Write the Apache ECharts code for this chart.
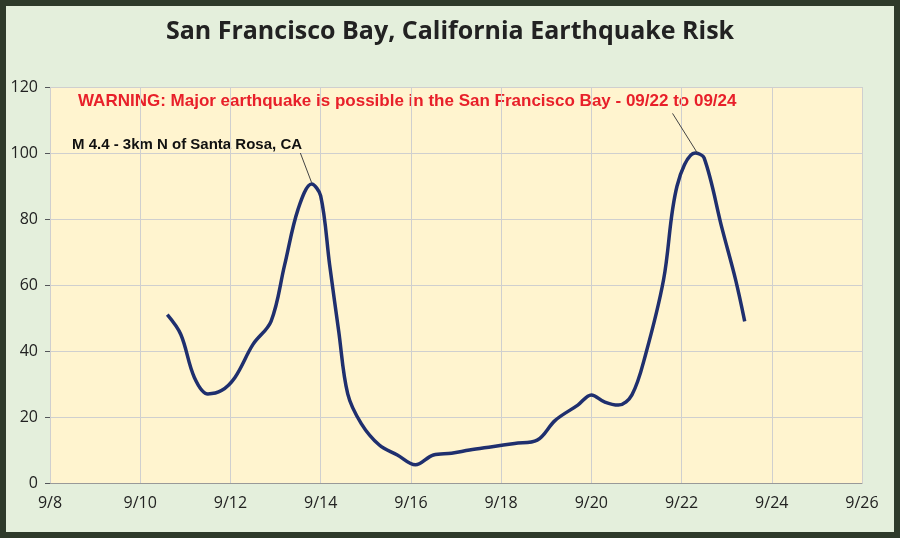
<!DOCTYPE html>
<html><head><meta charset="utf-8">
<script src="https://cdn.jsdelivr.net/npm/echarts@6/dist/echarts.min.js"></script>
<style>
html,body{margin:0;padding:0;background:#3a3a3a;}
#c{width:900px;height:538px;}
</style></head>
<body><div id="c"></div>
<script>
// day of September, risk value
var days = [10.6,10.9,11.2,11.5,11.8,12.1,12.5,12.9,13.2,13.5,13.8,14.0,14.2,14.4,14.6,14.9,15.3,15.7,16.1,16.5,16.9,17.3,17.8,18.3,18.8,19.2,19.7,20.0,20.3,20.6,20.9,21.2,21.6,21.9,22.3,22.5,22.9,23.2,23.4];
var risk = [51,45,32,27,28,32,42,49,66,83,90.6,87,66,46,27,18,11.5,8.5,5.5,8.5,9,10,11,12,13,19,23.6,26.7,24.5,23.6,26.7,38.8,61.5,90,100,98.5,77,61.5,49];

var myChart = echarts.init(document.getElementById('c'));
myChart.setOption({
    backgroundColor: '#e4efdc',
    animation: false,
    title: {
        text: 'San Francisco Bay, California Earthquake Risk',
        left: 'center', top: 14,
        textStyle: {fontFamily: 'Open Sans', fontWeight: 'bold', fontSize: 25, color: '#222'}
    },
    grid: {left: 50, right: 38, top: 87, bottom: 55, show: true, backgroundColor: '#fff4cf', borderWidth: 0},
    xAxis: {
        type: 'value', min: 8, max: 26, interval: 2,
        axisLine: {lineStyle: {color: '#999'}},
        axisTick: {show: false},
        splitLine: {lineStyle: {color: '#cfcfcf'}},
        axisLabel: {formatter: function (v) { return '9/' + v; }, fontSize: 16, color: '#222', fontFamily: 'Open Sans', margin: 12}
    },
    yAxis: {
        type: 'value', min: 0, max: 120, interval: 20,
        axisLine: {show: false},
        splitLine: {lineStyle: {color: '#cfcfcf'}},
        axisLabel: {fontSize: 16, color: '#222', fontFamily: 'Open Sans', margin: 12}
    },
    series: [{
        type: 'line', smooth: 0.35, showSymbol: false,
        data: days.map(function (d, i) { return [d, risk[i]]; }),
        lineStyle: {color: '#1f2f6e', width: 3.5},
        markLine: {
            silent: true, symbol: 'none', label: {show: false},
            lineStyle: {color: '#444', width: 1, type: 'solid'},
            data: [
                [{coord: [13.55, 100]}, {coord: [13.8, 91]}],
                [{coord: [21.8, 112]}, {coord: [22.35, 100]}]
            ]
        }
    }],
    graphic: [
        {type: 'text', left: 78, top: 93, style: {text: 'WARNING: Major earthquake is possible in the San Francisco Bay - 09/22 to 09/24', fill: '#e8202a', font: 'bold 17px Liberation Sans'}},
        {type: 'text', left: 72, top: 137, style: {text: 'M 4.4 - 3km N of Santa Rosa, CA', fill: '#111', font: 'bold 15px Liberation Sans'}},
        {type: 'rect', shape: {x: 3, y: 3, width: 894, height: 532}, style: {fill: 'none', stroke: '#2e3a2a', lineWidth: 6}}
    ]
});
</script></body></html>
